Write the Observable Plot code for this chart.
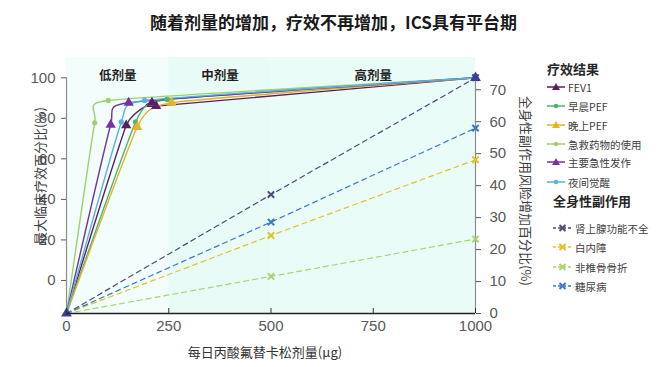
<!DOCTYPE html>
<html><head><meta charset="utf-8">
<script src="https://cdn.jsdelivr.net/npm/d3@7"></script>
<script src="https://cdn.jsdelivr.net/npm/@observablehq/plot@0.6"></script>
<style>
body{margin:0;background:#fff;}
#wrap{position:relative;width:667px;height:367px;overflow:hidden;font-family:"Noto Sans CJK SC","Noto Sans",sans-serif;background:#fff;}
#chart{position:absolute;left:0;top:0;}
.abs{position:absolute;white-space:nowrap;}
#title{left:0;top:10px;width:667px;text-align:center;font-weight:bold;font-size:17px;color:#1a1a1a;line-height:24px;}
.axt{font-size:13px;color:#404040;line-height:16px;}
.lgh{font-weight:bold;font-size:13px;color:#262626;line-height:16px;}
.lgi{display:flex;align-items:center;height:16px;font-size:10.5px;color:#404040;}
.lgi svg{margin-right:3px;}
</style></head><body>
<div id="wrap">
  <div id="chart"></div>
  <div class="abs" id="title">随着剂量的增加，疗效不再增加，ICS具有平台期</div>
  <div class="abs axt" id="xt" style="left:265px;top:352px;transform:translate(-50%,-50%);color:#333">每日丙酸氟替卡松剂量(μg)</div>
  <div class="abs axt" id="ylt" style="left:40px;top:176px;transform:translate(-50%,-50%) rotate(-90deg);">最大临床疗效百分比(%)</div>
  <div class="abs axt" id="yrt" style="left:526px;top:191px;transform:translate(-50%,-50%) rotate(90deg);">全身性副作用风险增加百分比(%)</div>
  <div id="legend"></div>
</div>
<script>
// ---- data ----
const xTicks = [0, 250, 500, 750, 1000];
const leftTicks = [0, 20, 40, 60, 80, 100];
const rightTicks = [0, 10, 20, 30, 40, 50, 60, 70];
const leftDomain = [-16.3, 110];
const rightAtLeft100 = 73.75; // right-axis value aligned with left 100

const bandStarts = [0, 250, 500];
const bandEnds = [250, 500, 1000];
const bandLabels = ["低剂量", "中剂量", "高剂量"];
const bandColors = ["#f3fdfc", "#e8fbf6", "#eafcf8"];

const efficacyNames = ["FEV1", "早晨PEF", "晚上PEF", "急救药物的使用", "主要急性发作", "夜间觉醒"];
const efficacyColors = ["#5a1f63", "#4fb56d", "#e6b325", "#9fd16a", "#7432a4", "#58b2e3"];
const efficacySymbols = ["triangle", "circle", "triangle", "circle", "triangle", "circle"];
const efficacyDoses = [
  [0, 146, 209, 219, 1000],
  [0, 169, 246, 1000],
  [0, 173, 257, 1000],
  [0, 69, 102, 1000],
  [0, 108, 152, 1000],
  [0, 134, 191, 1000]
];
const efficacyValues = [
  [-16.3, 76.5, 87.7, 86.0, 100],
  [-16.3, 78.2, 89.3, 100],
  [-16.3, 75.7, 87.7, 100],
  [-16.3, 77.8, 88.8, 100],
  [-16.3, 76.8, 87.7, 100],
  [-16.3, 78.2, 88.8, 100]
];

const sideNames = ["肾上腺功能不全", "白内障", "非椎骨骨折", "糖尿病"];
const sideColors = ["#4f4a78", "#e3c22c", "#a8d66c", "#3d77c6"];
const sideDoses = [0, 500, 1000];
const sideValues = [
  [0, 37.2, 73.75],
  [0, 24.4, 48.1],
  [0, 11.6, 23.3],
  [0, 28.6, 58.0]
];

const endDoses = [0, 1000];
const endValues = [-16.3, 100];
const endColor = "#3b3f98";

// ---- helpers ----
const k = (100 - leftDomain[0]) / rightAtLeft100;
const toLeft = r => leftDomain[0] + r * k;
const toRight = l => (l - leftDomain[0]) / k;
const smooth = d3.curveCardinal.tension(0.6);

const marks = [];
bandStarts.forEach((s, i) => {
  marks.push(Plot.rect([i], {x1: () => bandStarts[i], x2: () => bandEnds[i], y1: leftDomain[0], y2: leftDomain[1], fill: bandColors[i]}));
});
marks.push(Plot.text(bandLabels, {x: (d, i) => (bandStarts[i] + bandEnds[i]) / 2, text: d => d, frameAnchor: "top", dy: 14,
  fontFamily: "Noto Sans CJK SC", fontWeight: "bold", fontSize: 12.5, fill: "#1f1f1f"}));

// axis lines
marks.push(Plot.ruleX([xTicks[0]], {y1: leftDomain[0], y2: 100, stroke: "#8c8c8c", strokeWidth: 1.2}));
marks.push(Plot.ruleX([xTicks[xTicks.length - 1]], {y1: leftDomain[0], y2: 100, stroke: "#8c8c8c", strokeWidth: 1.2}));

// side effect lines
sideNames.forEach((name, i) => {
  const rows = sideDoses.map((d, j) => ({dose: d, value: toLeft(sideValues[i][j])}));
  marks.push(Plot.line(rows, {x: "dose", y: "value", stroke: sideColors[i], strokeWidth: 1.2, strokeDasharray: "5,4"}));
  marks.push(Plot.dot(rows.slice(1), {x: "dose", y: "value", symbol: "times", r: 3, stroke: sideColors[i], strokeWidth: 2}));
});

// efficacy lines
efficacyNames.forEach((name, i) => {
  const rows = efficacyDoses[i].map((d, j) => ({dose: d, value: efficacyValues[i][j]}));
  marks.push(Plot.line(rows, {x: "dose", y: "value", stroke: efficacyColors[i], strokeWidth: 1.4, curve: smooth}));
});
efficacyNames.forEach((name, i) => {
  const rows = efficacyDoses[i].map((d, j) => ({dose: d, value: efficacyValues[i][j]})).slice(1, -1);
  const tri = efficacySymbols[i] === "triangle";
  marks.push(Plot.dot(rows, {x: "dose", y: "value", symbol: efficacySymbols[i], r: tri ? 3.8 : 2.6, fill: efficacyColors[i], stroke: "none"}));
});

// end triangles
marks.push(Plot.dot(endDoses.map((d, j) => ({dose: d, value: endValues[j]})), {x: "dose", y: "value", symbol: "triangle", r: 4, fill: endColor}));

// bottom axis line
marks.push(Plot.ruleY([leftDomain[0]], {x1: xTicks[0], x2: xTicks[xTicks.length - 1], stroke: "#222", strokeWidth: 1.3}));

// axes
marks.push(Plot.axisX(xTicks, {anchor: "bottom", label: null, tickSize: -5, tickPadding: 12, fontSize: 15, color: "#595959", stroke: "#333",
  tickFormat: d => String(d)}));
marks.push(Plot.axisY(leftTicks, {anchor: "left", label: null, tickSize: 5, tickPadding: 6, fontSize: 15, color: "#595959"}));
marks.push(Plot.axisY(rightTicks.map(toLeft), {anchor: "right", label: null, tickSize: 5, tickPadding: 9, fontSize: 15, color: "#595959",
  tickFormat: d => String(Math.round(toRight(d)))}));

const chart = Plot.plot({
  width: 667, height: 367,
  marginLeft: 66, marginRight: 192, marginTop: 57, marginBottom: 54,
  x: {domain: [xTicks[0], xTicks[xTicks.length - 1]], axis: null, label: null},
  y: {domain: leftDomain, axis: null, label: null},
  style: {fontFamily: "'Liberation Sans', Arial, sans-serif", background: "transparent", overflow: "visible"},
  marks
});
document.getElementById("chart").appendChild(chart);

// ---- legend ----
function swatch(color, symbol, dashed, w) {
  let s = `<svg width="${w}" height="10" viewBox="0 0 ${w} 10">`;
  s += `<line x1="0" y1="5" x2="${w}" y2="5" stroke="${color}" stroke-width="1.5" ${dashed ? 'stroke-dasharray="3,2"' : ''}/>`;
  const c = w / 2;
  if (symbol === "triangle") s += `<polygon points="${c},1 ${c + 4},8 ${c - 4},8" fill="${color}"/>`;
  else if (symbol === "circle") s += `<circle cx="${c}" cy="5" r="2.3" fill="${color}"/>`;
  else s += `<path d="M${c - 3},2L${c + 3},8M${c + 3},2L${c - 3},8" stroke="${color}" stroke-width="2"/>`;
  return s + "</svg>";
}
const legend = document.getElementById("legend");
let html = `<div class="abs lgh" style="left:547px;top:61px">疗效结果</div>`;
const effY = [87, 106, 125, 144, 162, 182];
efficacyNames.forEach((n, i) => {
  html += `<div class="abs lgi" style="left:547px;top:${effY[i] - 8}px">${swatch(efficacyColors[i], efficacySymbols[i], false, 18)}${n}</div>`;
});
html += `<div class="abs lgh" style="left:553px;top:193px">全身性副作用</div>`;
const sideY = [228, 247, 267, 286];
sideNames.forEach((n, i) => {
  html += `<div class="abs lgi" style="left:553px;top:${sideY[i] - 8}px">${swatch(sideColors[i], "times", true, 19)}${n}</div>`;
});
legend.innerHTML = html;
</script>
</body></html>
